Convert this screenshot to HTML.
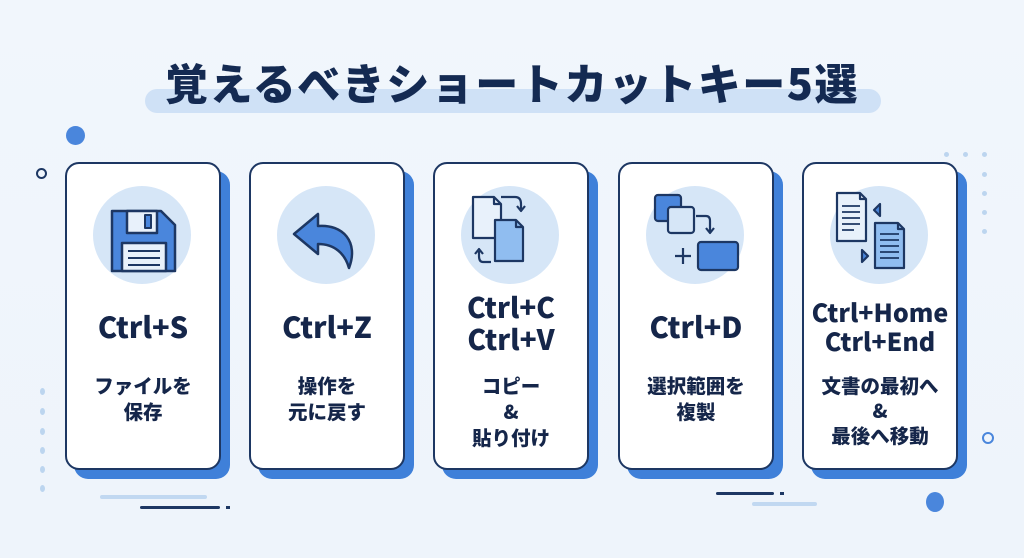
<!DOCTYPE html>
<html><head><meta charset="utf-8"><style>
*{margin:0;padding:0;box-sizing:border-box}
body{width:1024px;height:558px;overflow:hidden;background:linear-gradient(180deg,#f1f6fc,#eef4fb);font-family:"Noto Sans CJK JP","Liberation Sans",sans-serif;color:#15264a;position:relative}
.abs{position:absolute}
.title{left:0;width:1024px;top:52px;text-align:center;font-size:43px;font-weight:900;letter-spacing:1.5px;color:#142a52;line-height:60px}
.hl{left:145px;top:89px;width:736px;height:24px;border-radius:12px;background:#cfe1f6}
.card{position:absolute;top:162px;width:156px;height:308px;background:#fff;border:2.5px solid #1d3763;border-radius:14px;box-shadow:9px 9px 0 #3f80d9}
.circ{position:absolute;left:26px;top:22px;width:98px;height:98px;border-radius:50%;background:#d6e6f7}
.key{position:absolute;left:0;width:100%;text-align:center;font-weight:900;font-family:"Noto Sans CJK JP",sans-serif;color:#15264a}
.sub{position:absolute;left:0;width:100%;text-align:center;font-weight:900;font-size:19.5px;line-height:26px;color:#15264a}
svg{position:absolute;left:0;top:0}
.dot{position:absolute;border-radius:50%;background:#bcd5ef}
</style></head><body>
<div class="abs hl"></div>
<div class="abs title">覚えるべきショートカットキー5選</div>

<div class="abs" style="left:66px;top:126px;width:19px;height:19px;border-radius:50%;background:#4a86dc"></div>
<div class="abs" style="left:36px;top:168px;width:11px;height:11px;border-radius:50%;border:2.5px solid #1d3763"></div>
<div class="abs" style="left:982px;top:432px;width:12px;height:12px;border-radius:50%;border:2.5px solid #4a86dc"></div>
<div class="abs" style="left:926px;top:492px;width:18px;height:20px;border-radius:50%;background:#4a86dc"></div>

<div class="dot" style="left:40px;top:388px;width:5px;height:7px"></div>
<div class="dot" style="left:40px;top:408px;width:5px;height:7px"></div>
<div class="dot" style="left:40px;top:428px;width:5px;height:7px"></div>
<div class="dot" style="left:40px;top:447px;width:5px;height:7px"></div>
<div class="dot" style="left:40px;top:466px;width:5px;height:7px"></div>
<div class="dot" style="left:40px;top:485px;width:5px;height:7px"></div>
<div class="dot" style="left:944px;top:152px;width:5px;height:5px"></div>
<div class="dot" style="left:963px;top:152px;width:5px;height:5px"></div>
<div class="dot" style="left:982px;top:152px;width:5px;height:5px"></div>
<div class="dot" style="left:982px;top:172px;width:5px;height:5px"></div>
<div class="dot" style="left:982px;top:191px;width:5px;height:5px"></div>
<div class="dot" style="left:982px;top:210px;width:5px;height:5px"></div>
<div class="dot" style="left:982px;top:229px;width:5px;height:5px"></div>

<div class="abs" style="left:100px;top:495px;width:107px;height:4px;background:#c1d8f1;border-radius:2px"></div>
<div class="abs" style="left:140px;top:506px;width:80px;height:3px;background:#1d3763;border-radius:2px"></div>
<div class="abs" style="left:226px;top:506px;width:4px;height:3px;background:#1d3763"></div>
<div class="abs" style="left:716px;top:492px;width:58px;height:3px;background:#1d3763;border-radius:2px"></div>
<div class="abs" style="left:780px;top:492px;width:4px;height:3px;background:#1d3763"></div>
<div class="abs" style="left:752px;top:502px;width:65px;height:4px;background:#c1d8f1;border-radius:2px"></div>

<!-- card 1 -->
<div class="card" style="left:65px">
<div class="circ"></div>
<svg width="156" height="160"><g stroke="#1d3763" stroke-width="2.5" stroke-linejoin="round">
<path d="M45 47 H94 L108 61 V107 H45 Z" fill="#4a86dc"/>
<rect x="60" y="47" width="30" height="22" fill="#e8f1fb"/>
<rect x="78" y="51" width="6" height="13" fill="#4a86dc" stroke-width="2"/>
<rect x="55" y="79" width="44" height="28" fill="#e8f1fb"/>
<path d="M61 87H93M61 94H93M61 101H93" stroke-width="2"/></g></svg>
<div class="key" style="top:141px;font-size:29px">Ctrl+S</div>
<div class="sub" style="top:208px">ファイルを<br>保存</div>
</div>

<!-- card 2 -->
<div class="card" style="left:249px">
<div class="circ"></div>
<svg width="156" height="160"><path d="M43 70 L67 50 L67 62 C92 60 108 78 98 104 C94 90 84 80 67 80 L67 90 Z" fill="#4a86dc" stroke="#1d3763" stroke-width="2.5" stroke-linejoin="round"/></svg>
<div class="key" style="top:141px;font-size:29px">Ctrl+Z</div>
<div class="sub" style="top:208px">操作を<br>元に戻す</div>
</div>

<!-- card 3 -->
<div class="card" style="left:433px">
<div class="circ"></div>
<svg width="156" height="160"><g stroke="#1d3763" stroke-width="2.2" stroke-linejoin="round" fill="none">
<path d="M38 33H59L66 40V74H38Z" fill="#e8f1fb"/><path d="M59 33V40H66"/>
<path d="M60 56H81L88 63V97H60Z" fill="#90bdf0"/><path d="M81 56V63H88"/>
<path d="M66 33H80Q86 33 86 40V45M82 42L86 47L90 42"/>
<path d="M56 98H48Q44 98 44 92V87M40 90L44 85L48 90"/></g></svg>
<div class="key" style="top:127px;font-size:28px;line-height:32px">Ctrl+C<br>Ctrl+V</div>
<div class="sub" style="top:208px;line-height:26px">コピー<br>&amp;<br>貼り付け</div>
</div>

<!-- card 4 -->
<div class="card" style="left:618px">
<div class="circ"></div>
<svg width="156" height="160"><g stroke="#1d3763" stroke-width="2.2" stroke-linejoin="round" fill="none">
<rect x="35" y="31" width="26" height="26" rx="3" fill="#4a86dc"/>
<rect x="48" y="43" width="26" height="26" rx="3" fill="#d6e6f7"/>
<path d="M76 52H86Q90 52 90 57V68M86 64L90 69L94 64"/>
<rect x="78" y="78" width="40" height="28" rx="3" fill="#4a86dc"/>
<path d="M55 92H71M63 84V100"/></g></svg>
<div class="key" style="top:141px;font-size:29px">Ctrl+D</div>
<div class="sub" style="top:208px">選択範囲を<br>複製</div>
</div>

<!-- card 5 -->
<div class="card" style="left:802px">
<div class="circ"></div>
<svg width="156" height="160"><g stroke="#1d3763" stroke-width="2.2" stroke-linejoin="round" fill="none">
<path d="M33 29H56L62 35V77H33Z" fill="#e8f1fb"/><path d="M56 29V35H62"/>
<path d="M38 42H56M38 48H56M38 54H56M38 60H56M38 66H50" stroke-width="1.8"/>
<path d="M71 59H94L100 65V104H71Z" fill="#90bdf0"/><path d="M94 59V65H100"/>
<path d="M76 70H95M76 76H95M76 82H95M76 88H95M76 94H95" stroke-width="1.8"/>
<path d="M76 40L70 46L76 52Z" fill="#4a86dc"/>
<path d="M58 86L64 92L58 98Z" fill="#4a86dc"/></g></svg>
<div class="key" style="top:134px;font-size:25px;line-height:29px">Ctrl+Home<br>Ctrl+End</div>
<div class="sub" style="top:208px;line-height:25px">文書の最初へ<br>&amp;<br>最後へ移動</div>
</div>
</body></html>
